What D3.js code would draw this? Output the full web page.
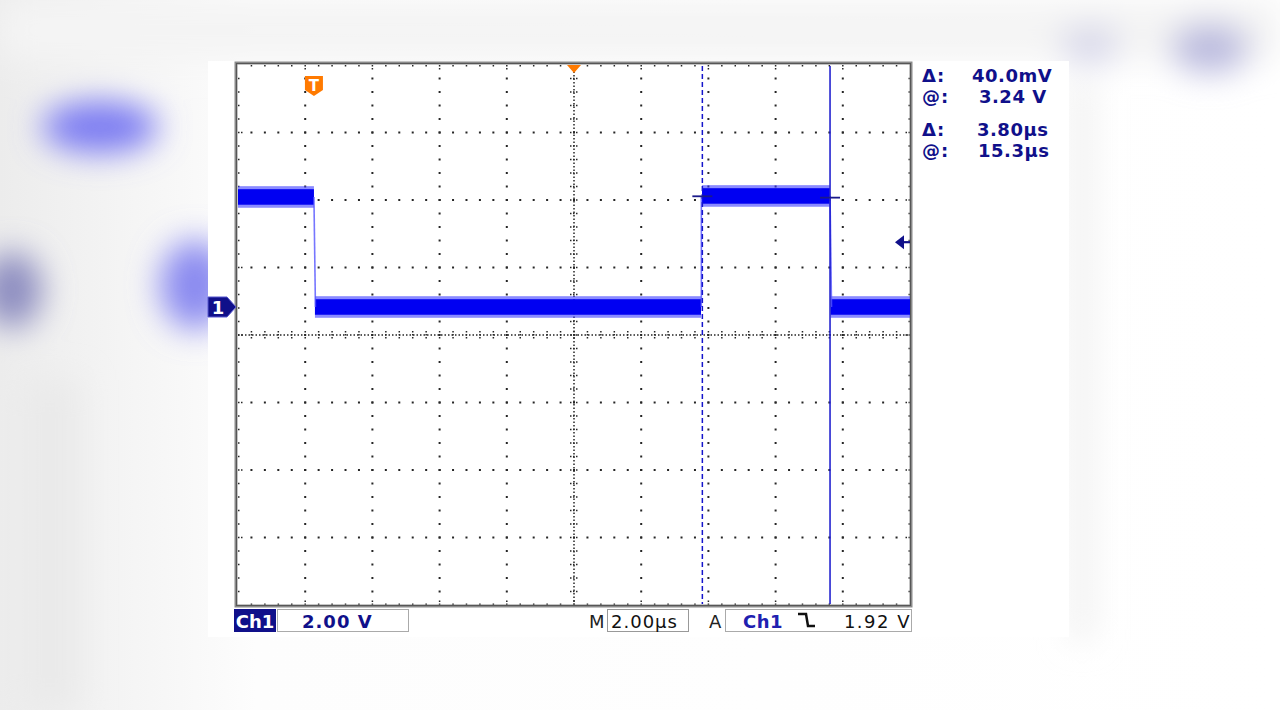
<!DOCTYPE html>
<html><head><meta charset="utf-8">
<script src="https://cdn.jsdelivr.net/npm/d3@7"></script>
<style>body{margin:0;background:#fff;overflow:hidden}svg{display:block}</style>
</head><body><svg id="c" width="1280" height="710"></svg>
<script>
// ---------- data ----------
const timePerDiv = 2.0;            // µs / div
const voltsPerDiv = 2.0;           // V / div
const timeRange = [-2.26, 17.74];  // µs relative to trigger (10 div)
const voltRange = [-8.83, 7.17];   // V (8 div), ground marker at 0 V
const segStart = [-2.26, 0.03, 11.55, 15.38];
const segEnd   = [0.0, 11.52, 15.35, 17.74];
const segLevel = [3.26, 0.0, 3.29, 0.0];   // V
const noiseHalf = 0.27;                    // V, half width of noise band
const edgeTimes = [0.0, 11.53, 15.36];
const edgeFrom  = [3.26, 0.0, 3.29];
const edgeTo    = [0.0, 3.29, 0.0];
const cursorTimes = [11.56, 15.36];        // µs
const cursorVolts = [3.28, 3.24];          // V
const trigLevel = 1.92;                    // V
const readLabels = ["Δ:", "@:", "Δ:", "@:"];
const readValues = ["40.0mV", "3.24 V", "3.80µs", "15.3µs"];
const chLabel = "Ch1";
const scaleLabel = "2.00 V";
const timeLabel = "2.00µs";
const trigLabel = "1.92 V";

const svg = d3.select("#c");
const navy = "#10108a";

// ---------- blurred background ----------
const defs = svg.append("defs");
defs.append("filter").attr("id","blur").attr("x","-50%").attr("y","-50%").attr("width","200%").attr("height","200%")
  .append("feGaussianBlur").attr("stdDeviation", 16);
const lg = defs.append("linearGradient").attr("id","lg").attr("x1","0").attr("x2","1");
lg.append("stop").attr("offset","0").attr("stop-color","#ececec");
lg.append("stop").attr("offset","0.07").attr("stop-color","#f2f2f2");
lg.append("stop").attr("offset","0.2").attr("stop-color","#fdfdfd");
lg.append("stop").attr("offset","1").attr("stop-color","#ffffff");
svg.append("rect").attr("width",1280).attr("height",710).attr("fill","url(#lg)");
const bg = svg.append("g").attr("filter","url(#blur)");
bg.append("rect").attr("x",0).attr("y",0).attr("width",1280).attr("height",60).attr("fill","#f4f4f4");
bg.append("ellipse").attr("cx",100).attr("cy",127).attr("rx",58).attr("ry",26).attr("fill","#7a7af2");
bg.append("ellipse").attr("cx",12).attr("cy",290).attr("rx",30).attr("ry",38).attr("fill","#8c8cc0");
bg.append("ellipse").attr("cx",195).attr("cy",285).attr("rx",35).attr("ry",45).attr("fill","#8a8af0");
bg.append("ellipse").attr("cx",1210).attr("cy",48).attr("rx",40).attr("ry",25).attr("fill","#babade");
bg.append("ellipse").attr("cx",1090).attr("cy",45).attr("rx",30).attr("ry",20).attr("fill","#d8d8ea");
bg.append("rect").attr("x",1072).attr("y",80).attr("width",20).attr("height",560).attr("fill","#eeeeee");
bg.append("rect").attr("x",20).attr("y",380).attr("width",60).attr("height",330).attr("fill","#eaeaea");

// white screenshot panel
svg.append("rect").attr("x",208).attr("y",61).attr("width",861).attr("height",576).attr("fill","#fff");

// ---------- scales ----------
const x = d3.scaleLinear().domain(timeRange).range([238, 910]);
const y = d3.scaleLinear().domain(voltRange).range([605, 65]);
const gx = d3.scaleLinear().domain([0, 10]).range(x.range());
const gy = d3.scaleLinear().domain([0, 8]).range(y.range());

// ---------- graticule ----------
const grid = svg.append("g");
const dot = "#262626";
for (let i = 1; i <= 9; i++) {
  if (i === 5) continue;
  for (let j = 1; j < 40; j++)
    grid.append("rect").attr("x", gx(i) - 1).attr("y", gy(j / 5) - 1).attr("width", 2).attr("height", 2).attr("fill", dot);
}
for (let k = 1; k <= 7; k++) {
  if (k === 4) continue;
  for (let j = 1; j < 50; j++)
    grid.append("rect").attr("x", gx(j / 5) - 1).attr("y", gy(k) - 1).attr("width", 2).attr("height", 2).attr("fill", dot);
}
// centre lines
grid.append("line").attr("x1", gx(5)).attr("x2", gx(5)).attr("y1", gy(0)).attr("y2", gy(8))
  .attr("stroke", dot).attr("stroke-width", 1.5).attr("stroke-dasharray", "1.5,2");
grid.append("line").attr("x1", gx(0)).attr("x2", gx(10)).attr("y1", gy(4)).attr("y2", gy(4))
  .attr("stroke", dot).attr("stroke-width", 1.5).attr("stroke-dasharray", "1.5,2");
for (let j = 1; j < 40; j++)
  grid.append("line").attr("x1", gx(5) - 4).attr("x2", gx(5) + 4).attr("y1", gy(j / 5)).attr("y2", gy(j / 5))
    .attr("stroke", dot).attr("stroke-width", 1.5).attr("stroke-dasharray", "1.5,1.5");
for (let j = 1; j < 50; j++)
  grid.append("line").attr("x1", gx(j / 5)).attr("x2", gx(j / 5)).attr("y1", gy(4) - 4).attr("y2", gy(4) + 4)
    .attr("stroke", dot).attr("stroke-width", 1.5).attr("stroke-dasharray", "1.5,1.5");
// border ticks
for (let j = 1; j < 50; j++) {
  const L = (j % 5 === 0) ? 6 : 3;
  grid.append("line").attr("x1", gx(j / 5)).attr("x2", gx(j / 5)).attr("y1", gy(8)).attr("y2", gy(8) + L).attr("stroke", dot).attr("stroke-width", 1.5).attr("stroke-dasharray","1.5,1.5");
  grid.append("line").attr("x1", gx(j / 5)).attr("x2", gx(j / 5)).attr("y1", gy(0)).attr("y2", gy(0) - L).attr("stroke", dot).attr("stroke-width", 1.5).attr("stroke-dasharray","1.5,1.5");
}
for (let j = 1; j < 40; j++) {
  const L = (j % 5 === 0) ? 6 : 3;
  grid.append("line").attr("y1", gy(j / 5)).attr("y2", gy(j / 5)).attr("x1", gx(0)).attr("x2", gx(0) + L).attr("stroke", dot).attr("stroke-width", 1.5).attr("stroke-dasharray","1.5,1.5");
  grid.append("line").attr("y1", gy(j / 5)).attr("y2", gy(j / 5)).attr("x1", gx(10)).attr("x2", gx(10) - L).attr("stroke", dot).attr("stroke-width", 1.5).attr("stroke-dasharray","1.5,1.5");
}
// frame
grid.append("rect").attr("x", 236).attr("y", 63).attr("width", 675).attr("height", 543)
  .attr("fill", "none").attr("stroke", "#8a8a8a").attr("stroke-width", 3);
grid.append("rect").attr("x", 236.5).attr("y", 63.5).attr("width", 674).attr("height", 542)
  .attr("fill", "none").attr("stroke", "#222").attr("stroke-width", 1).attr("stroke-dasharray", "1,1");

// ---------- trace ----------
const trace = svg.append("g");
const segs = segStart.map((s, i) => ({ s, e: segEnd[i], v: segLevel[i] }));
trace.selectAll("rect.fringe").data(segs).join("rect").attr("class", "fringe")
  .attr("x", d => x(d.s)).attr("width", d => x(d.e) - x(d.s))
  .attr("y", d => y(d.v + noiseHalf + 0.05)).attr("height", d => y(d.v - noiseHalf - 0.05) - y(d.v + noiseHalf + 0.05))
  .attr("fill", "#3c3cff").attr("opacity", 0.6);
trace.selectAll("rect.core").data(segs).join("rect").attr("class", "core")
  .attr("x", d => x(d.s)).attr("width", d => x(d.e) - x(d.s))
  .attr("y", d => y(d.v + noiseHalf - 0.04)).attr("height", d => y(d.v - noiseHalf + 0.04) - y(d.v + noiseHalf - 0.04))
  .attr("fill", "#0000f2");
trace.selectAll("line.edge").data(edgeTimes).join("line").attr("class", "edge")
  .attr("x1", d => x(d)).attr("x2", (d, i) => x(d) + (edgeTo[i] < edgeFrom[i] ? 1.5 : 0))
  .attr("y1", (d, i) => y(edgeFrom[i])).attr("y2", (d, i) => y(edgeTo[i]))
  .attr("stroke", "#5555ff").attr("stroke-width", 1.6).attr("opacity", 0.8);

// ---------- cursors ----------
svg.append("line").attr("x1", x(cursorTimes[0])).attr("x2", x(cursorTimes[0])).attr("y1", 66).attr("y2", 604)
  .attr("stroke", "#1515cc").attr("stroke-width", 1.5).attr("stroke-dasharray", "5,3");
svg.append("line").attr("x1", x(cursorTimes[1])).attr("x2", x(cursorTimes[1])).attr("y1", 66).attr("y2", 604)
  .attr("stroke", "#1515cc").attr("stroke-width", 1.5);
cursorTimes.forEach((t, i) => {
  svg.append("line").attr("x1", x(t) - 10).attr("x2", x(t) + 10).attr("y1", y(cursorVolts[i])).attr("y2", y(cursorVolts[i]))
    .attr("stroke", "#1a1a8a").attr("stroke-width", 1.8);
});

// ---------- markers ----------
const ty = y(trigLevel);
svg.append("path").attr("d", `M895,${ty} L904,${ty - 7} L904,${ty + 7} Z`).attr("fill", navy);
svg.append("line").attr("x1", 900).attr("x2", 910).attr("y1", ty).attr("y2", ty).attr("stroke", navy).attr("stroke-width", 2.2);
const g0 = y(0);
svg.append("path").attr("d", `M208,${g0 - 10} L227,${g0 - 10} L236,${g0} L227,${g0 + 10} L208,${g0 + 10} Z`)
  .attr("fill", navy).attr("stroke", "#5a5ad0").attr("stroke-width", 1);
svg.append("text").attr("x", 218).attr("y", g0 + 7).attr("text-anchor", "middle")
  .attr("font-family", "DejaVu Sans").attr("font-size", 18).attr("font-weight", "bold").attr("fill", "#fff").text("1");
const tx = x(0);
svg.append("path").attr("d", `M${tx - 9},76 L${tx + 9},76 L${tx + 9},90 L${tx},96 L${tx - 9},90 Z`).attr("fill", "#ff7a00");
svg.append("text").attr("x", tx).attr("y", 91).attr("text-anchor", "middle")
  .attr("font-family", "DejaVu Sans").attr("font-size", 15).attr("font-weight", "bold").attr("fill", "#fff").text("T");
const cx = gx(5);
svg.append("path").attr("d", `M${cx - 7},65 L${cx + 7},65 L${cx},73 Z`).attr("fill", "#ff7a00");

// ---------- readouts ----------
const font = "DejaVu Sans";
const rY = [82, 103, 136, 157];
const rX = [972, 979, 977, 978];
readLabels.forEach((l, i) => {
  svg.append("text").attr("x", 922).attr("y", rY[i]).attr("font-family", font).attr("font-size", 18)
    .attr("font-weight", "bold").attr("fill", navy).attr("letter-spacing", 1).text(l);
  svg.append("text").attr("x", rX[i]).attr("y", rY[i]).attr("font-family", font).attr("font-size", 18)
    .attr("font-weight", "bold").attr("fill", navy).attr("letter-spacing", 0.5).text(readValues[i]);
});

// bottom bar
svg.append("rect").attr("x", 234).attr("y", 609).attr("width", 42).attr("height", 23).attr("fill", navy);
svg.append("text").attr("x", 255).attr("y", 628).attr("text-anchor", "middle").attr("font-family", font)
  .attr("font-size", 18).attr("font-weight", "bold").attr("fill", "#fff").text(chLabel);
svg.append("rect").attr("x", 277.5).attr("y", 609.5).attr("width", 131).attr("height", 22).attr("fill", "#fff").attr("stroke", "#aaa");
svg.append("text").attr("x", 302).attr("y", 628).attr("font-family", font).attr("font-size", 18).attr("font-weight", "bold")
  .attr("fill", navy).attr("letter-spacing", 1).text(scaleLabel);
svg.append("text").attr("x", 589).attr("y", 628).attr("font-family", font).attr("font-size", 18).attr("fill", "#222").text("M");
svg.append("rect").attr("x", 607.5).attr("y", 609.5).attr("width", 81).attr("height", 22).attr("fill", "#fff").attr("stroke", "#999");
svg.append("text").attr("x", 611).attr("y", 628).attr("font-family", font).attr("font-size", 18)
  .attr("fill", "#111").attr("letter-spacing", 1).text(timeLabel);
svg.append("text").attr("x", 709).attr("y", 628).attr("font-family", font).attr("font-size", 18).attr("fill", "#222").text("A");
svg.append("rect").attr("x", 725.5).attr("y", 609.5).attr("width", 186).attr("height", 22).attr("fill", "#fff").attr("stroke", "#aaa");
svg.append("text").attr("x", 743).attr("y", 628).attr("font-family", font).attr("font-size", 18).attr("font-weight", "bold")
  .attr("fill", "#2020b0").attr("letter-spacing", 0.5).text(chLabel);
svg.append("path").attr("d", "M798,614 L806,614 L808,626 L815,626").attr("fill", "none").attr("stroke", "#111").attr("stroke-width", 2.5);
svg.append("text").attr("x", 911).attr("y", 628).attr("text-anchor", "end").attr("font-family", font).attr("font-size", 18)
  .attr("fill", "#111").attr("letter-spacing", 1.5).text(trigLabel);
</script></body></html>
